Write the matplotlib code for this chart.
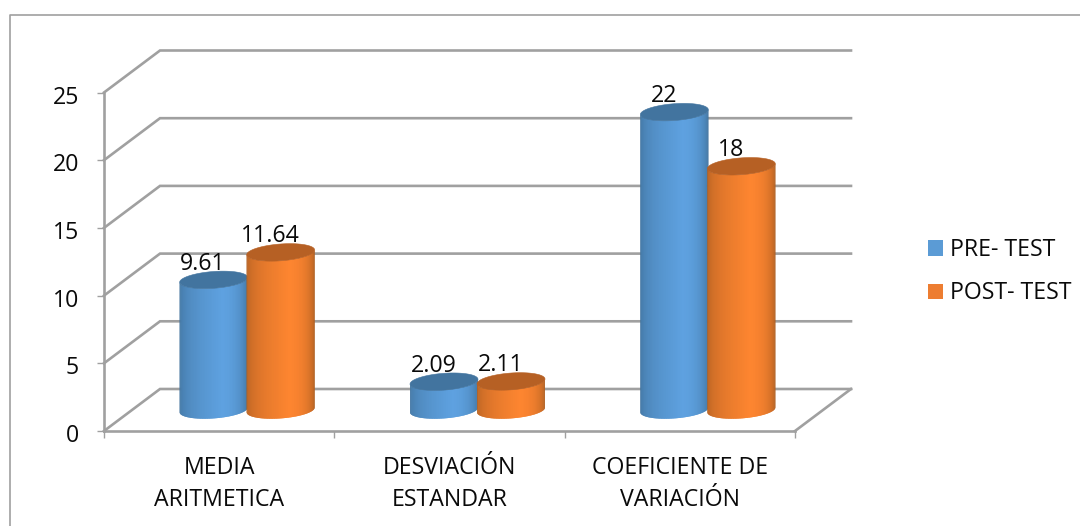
import numpy as np
import matplotlib
matplotlib.use("Agg")
import matplotlib.pyplot as plt
from matplotlib.collections import PolyCollection
from matplotlib.colors import to_rgb
from matplotlib.patches import Patch, Polygon
from matplotlib.lines import Line2D
from matplotlib.transforms import ScaledTranslation

categories = ["MEDIA\nARITMETICA", "DESVIACIÓN\nESTANDAR", "COEFICIENTE DE\nVARIACIÓN"]
series_names = ["PRE- TEST", "POST- TEST"]
pre_test = [9.61, 2.09, 22]
post_test = [11.64, 2.11, 18]
value_labels_pre = ["9.61", "2.09", "22"]
value_labels_post = ["11.64", "2.11", "18"]
y_ticks = [0, 5, 10, 15, 20, 25]

W, H = 1080, 526
plt.rcParams["font.family"] = ["Open Sans", "DejaVu Sans"]
FS = 16.7
TXT = "#0a0a0a"
fig = plt.figure(figsize=(W / 100, H / 100), dpi=100)
L, R, T, B = 104, 795, 92.5, 431
ax = fig.add_axes([L / W, 1 - B / H, (R - L) / W, (B - T) / H])
ax.set_xlim(0, 3)
ax.set_ylim(0, 25)
ax.patch.set_alpha(0)

px = 3 / (R - L)          # data units per pixel, x
py = 25 / (B - T)         # data units per pixel, y
DX, DY = 56 * px, 42 * py
GRID = "#a0a0a0"

# outer frame
fig.add_artist(Line2D([9.5 / W, 9.5 / W, 1], [0, 1 - 14.5 / H, 1 - 14.5 / H],
                      color="#a0a0a0", lw=1.2, transform=fig.transFigure))

# walls
for v in y_ticks:
    ax.plot([0, DX, 3 + DX], [v, v + DY, v + DY], color=GRID, lw=1.9, clip_on=False, zorder=1, solid_joinstyle="miter")
ax.plot([3, 3 + DX], [0, DY], color=GRID, lw=1.9, clip_on=False, zorder=1)

for s in ("top", "right"):
    ax.spines[s].set_visible(False)
for s in ("left", "bottom"):
    ax.spines[s].set_color(GRID)
    ax.spines[s].set_linewidth(1.9)
    ax.spines[s].set_zorder(2)

ax.set_yticks(y_ticks)
ax.set_xticks([0, 1, 2, 3])
ax.set_xticklabels([])
ax.set_xticks([0.5, 1.5, 2.5], minor=True)
ax.set_xticklabels(categories, minor=True, fontsize=FS, linespacing=1.42, color=TXT)
ax.tick_params(axis="x", which="major", length=5, width=1, color=GRID)
ax.tick_params(axis="x", which="minor", length=0, pad=18)
ax.tick_params(axis="y", length=5, width=1, color=GRID, pad=13, labelsize=FS, labelcolor=TXT)
shift = ScaledTranslation(0, -2 / 72 * 0.72, fig.dpi_scale_trans)
for lab in ax.get_yticklabels():
    lab.set_transform(lab.get_transform() + shift)


def shade(dark, light, n=60):
    dark, light = np.array(to_rgb(dark)), np.array(to_rgb(light))
    u = np.linspace(0, 1, n)
    out = []
    for p in u:
        if p < 0.58:
            q = (p / 0.58) ** 0.6
        else:
            q = 1 - ((p - 0.58) / 0.42) ** 1.7
        out.append(tuple(dark + (light - dark) * q))
    return out


A = 34 * px        # half width
KY = 2.4 * py      # tilt of the ellipse
BY = 8.4 * py      # minor half axis
BASE = DY / 2
N = 60


def cylinder(cx, v, dark, light, top, z):
    t = np.linspace(np.pi, 0, N + 1)
    xs = cx + A * np.cos(t)
    low = BASE - BY * np.sin(t) + KY * np.cos(t)
    up = low + v
    cols = shade(dark, light, N)
    polys = []
    for i in range(N):
        j = min(i + 2, N)  # overlap the next strip so that no seam shows
        polys.append([(xs[i], low[i]), (xs[j], low[j]), (xs[j], up[j]), (xs[i], up[i])])
    ax.add_collection(PolyCollection(polys, facecolors=cols, edgecolors="none",
                                     clip_on=False, zorder=z))
    th = np.linspace(0, 2 * np.pi, 120)
    ell = np.c_[cx + A * np.cos(th), BASE + v + BY * np.sin(th) + KY * np.cos(th)]
    ax.add_patch(Polygon(ell, closed=True, fc=top, ec=top, lw=0.4, clip_on=False, zorder=z + 0.5))


for i in range(3):
    c = i + 0.5 + DX / 2
    off = 33.5 * px
    cylinder(c - off, pre_test[i], "#3c6c94", "#5ea1e0", "#42749f", 3 + i)
    cylinder(c + off, post_test[i], "#a55a20", "#fd8530", "#b66024", 3.7 + i)
    ax.text(c - off - 10.5 * px, pre_test[i] + BASE + 10 * py, value_labels_pre[i], ha="center", va="baseline",
            fontsize=FS, color=TXT, zorder=10, clip_on=False)
    ax.text(c + off - 10.5 * px, post_test[i] + BASE + 10 * py, value_labels_post[i],
            ha="center", va="baseline", fontsize=FS, color=TXT, zorder=10, clip_on=False)

handles = [Patch(fc="#5b9bd5", ec="none"), Patch(fc="#ed7d31", ec="none")]
leg = fig.legend(handles, series_names, loc="upper left", bbox_to_anchor=(928 / W, 1 - 238 / H),
                 bbox_transform=fig.transFigure, frameon=False, fontsize=FS, borderpad=0, borderaxespad=0,
                 handlelength=0.65, handleheight=0.65, handletextpad=0.3, labelspacing=0.84, labelcolor=TXT)

fig.savefig("out.png", dpi=100)
